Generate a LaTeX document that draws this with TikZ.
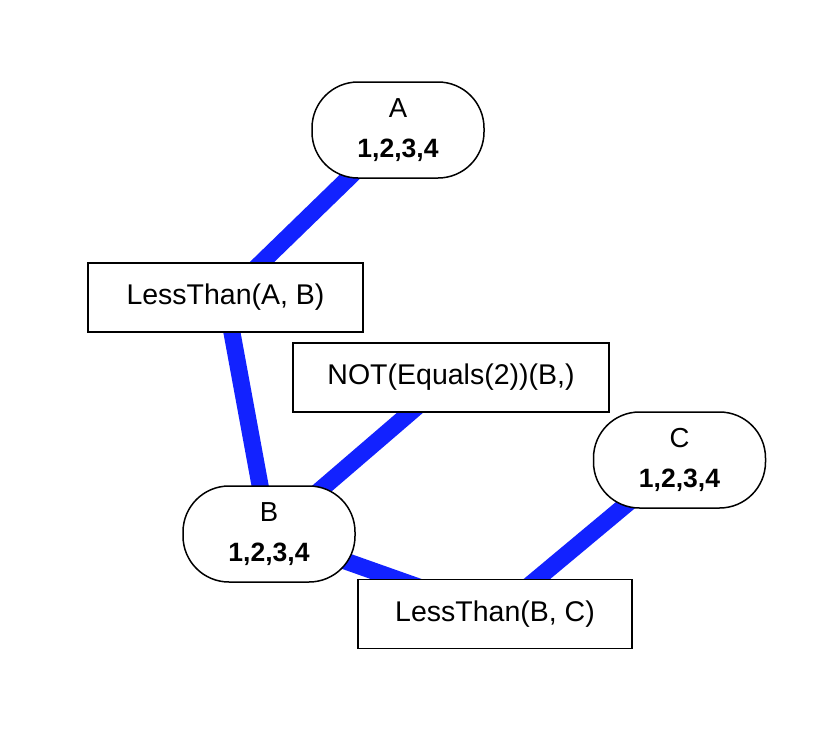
\documentclass[tikz,border=0pt]{standalone}
\usepackage{fontspec}
\setmainfont{Liberation Sans}
\usetikzlibrary{backgrounds}
\definecolor{edgeblue}{RGB}{18,34,255}

\begin{document}
\begin{tikzpicture}[x=1pt,y=-1pt]
\tikzstyle{var}=[draw,line width=1.5pt,fill=white,rounded corners=46pt,minimum width=172pt,minimum height=96pt,inner sep=0pt,align=center,font=\fontsize{27.5}{40}\selectfont]
\tikzstyle{cons}=[draw,line width=1.5pt,fill=white,minimum height=69pt,inner sep=0pt,font=\fontsize{28.5}{30}\selectfont]
\tikzstyle{edge}=[edgeblue,line width=17pt]
    \useasboundingbox (0,0) rectangle (840,744);
    \node[var] (A) at (398,130) {A\\\textbf{\fontsize{26.5}{40}\selectfont 1,2,3,4}};
    \node[var] (B) at (269,534) {B\\\textbf{\fontsize{26.5}{40}\selectfont 1,2,3,4}};
    \node[var] (C) at (679.5,460) {C\\\textbf{\fontsize{26.5}{40}\selectfont 1,2,3,4}};
    \node[cons,minimum width=275pt] (ltab) at (225.5,297.5) {LessThan(A, B)};
    \node[cons,minimum width=316pt] (noteq) at (451,377.5) {NOT(Equals(2))(B,)};
    \node[cons,minimum width=274pt] (ltbc) at (495,614) {LessThan(B, C)};
    \begin{scope}[on background layer]
    \draw[edge] (A.center) to (ltab.center);
    \draw[edge] (ltab.center) to (B.center);
    \draw[edge] (noteq.center) to (B.center);
    \draw[edge] (B.center) to (ltbc.center);
    \draw[edge] (C.center) to (ltbc.center);
    \end{scope}
\end{tikzpicture}
\end{document}
